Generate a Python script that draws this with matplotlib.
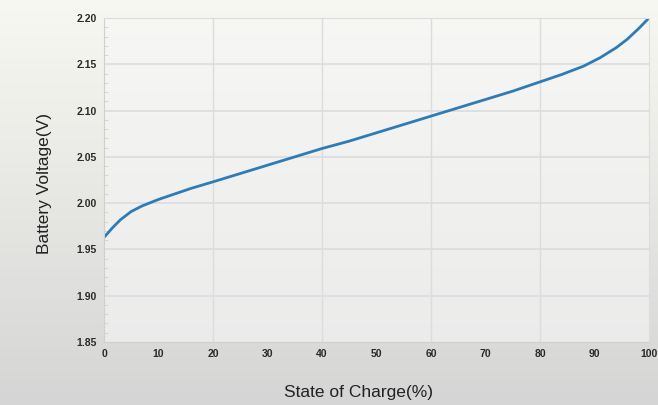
import numpy as np
import matplotlib
matplotlib.use("Agg")
import matplotlib.pyplot as plt
from matplotlib.colors import LinearSegmentedColormap

soc = [0, 1.5, 3, 5, 7, 10, 13, 16, 20, 25, 30, 35, 40, 45, 50, 55, 60, 65, 70,
       75, 80, 84, 88, 91, 94, 96, 98, 99, 100]
voltage = [1.963, 1.973, 1.982, 1.991, 1.997, 2.004, 2.010, 2.016, 2.023, 2.032,
           2.041, 2.050, 2.059, 2.067, 2.076, 2.085, 2.094, 2.103, 2.112, 2.121,
           2.131, 2.139, 2.148, 2.157, 2.168, 2.177, 2.188, 2.194, 2.200]
x_ticks = [0, 10, 20, 30, 40, 50, 60, 70, 80, 90, 100]
y_ticks = [1.85, 1.90, 1.95, 2.00, 2.05, 2.10, 2.15, 2.20]

plt.rcParams['font.family'] = ['Liberation Sans', 'DejaVu Sans']

fig = plt.figure(figsize=(6.58, 4.05), dpi=100)
bg = fig.add_axes([0, 0, 1, 1], zorder=-10)
grad = np.linspace(0, 1, 256).reshape(-1, 1)
cm = LinearSegmentedColormap.from_list("bg", ["#f8f8f2", "#d5d5d5"])
bg.imshow(grad, aspect="auto", cmap=cm, extent=[0, 1, 0, 1], origin="upper")
bg.axis("off")

ax = fig.add_axes([104/658, 1 - 342/405, (649-104)/658, (342-18)/405])
ax.set_facecolor((0.97, 0.97, 0.97, 0.6))
ax.plot(soc, voltage, color="#2f7bb6", lw=2.0, solid_capstyle="round",
        solid_joinstyle="round")
ax.set_xlim(0, 100)
ax.set_ylim(1.85, 2.20)
ax.set_xticks(x_ticks)
ax.set_xticklabels([str(v) for v in x_ticks])
ax.set_yticks(y_ticks)
ax.set_yticklabels(["%.2f" % v for v in y_ticks])
for xv in [20, 40, 60, 80]:
    ax.axvline(xv, color="#dcdcdc", lw=1.0, zorder=0)
for yv in y_ticks[1:-1]:
    ax.axhline(yv, color="#dcdcdc", lw=1.2, zorder=0)
ax.set_yticks(np.arange(1.85, 2.2001, 0.01), minor=True)
ax.tick_params(axis="y", which="minor", length=3, color="#d0d0d0", direction="in")
ax.tick_params(axis="both", which="major", length=0, labelsize=7.5, colors="#2a2a2a", pad=5)
for lab in ax.get_xticklabels() + ax.get_yticklabels():
    lab.set_fontfamily(['Liberation Sans Narrow', 'Liberation Sans', 'DejaVu Sans'])
    lab.set_fontweight('bold')
for s in ["top", "right"]:
    ax.spines[s].set_color("#dddddd")
for s in ["left", "bottom"]:
    ax.spines[s].set_color("#cfcfcf")
ax.set_xlabel("State of Charge(%)", fontsize=12.5, color="#222222")
ax.xaxis.label.set_va("center")
ax.xaxis.set_label_coords((358-104)/545, -(392-342)/324)
ax.set_ylabel("Battery Voltage(V)", fontsize=12.5, color="#222222")
ax.yaxis.label.set_va("center")
ax.yaxis.set_label_coords(-(104-45)/545, (342-184)/324)
fig.savefig("out.png", dpi=100)
